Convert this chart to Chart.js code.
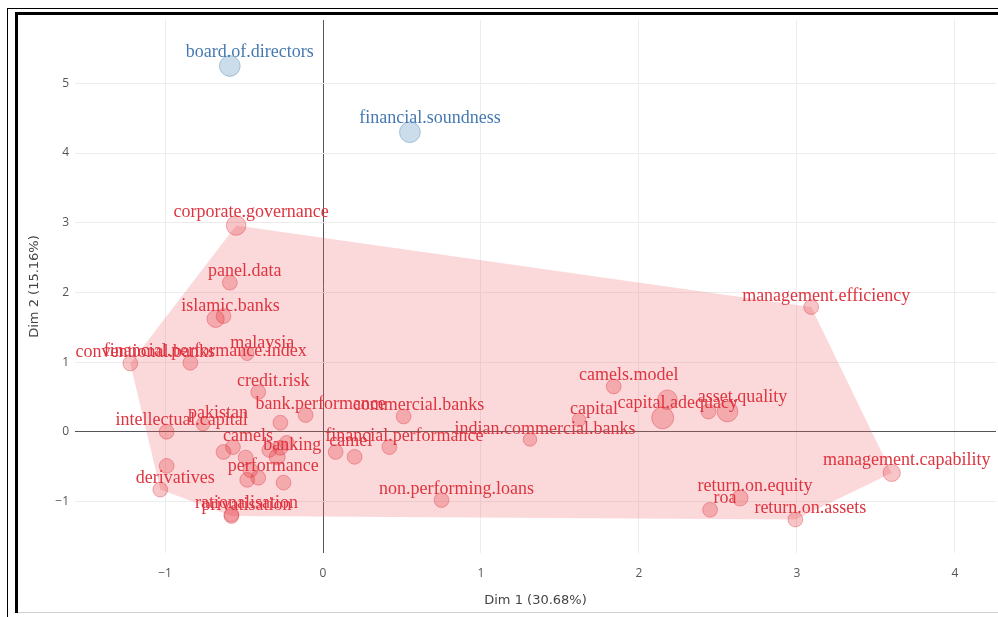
<!DOCTYPE html>
<html>
<head>
<meta charset="utf-8">
<title>MCA biplot – Dim 1 vs Dim 2</title>
<script src="https://cdn.jsdelivr.net/npm/chart.js@4.4.1/dist/chart.umd.min.js"></script>
<style>
  html, body { margin: 0; padding: 0; background: #fff; overflow: hidden; }
  #wrap { position: relative; width: 998px; height: 617px; overflow: hidden; }
  #plot { position: absolute; left: 0; top: 0; }
  .rule { position: absolute; background: #000; }
</style>
</head>
<body>
<div id="wrap">
  <canvas id="plot" width="998" height="617"></canvas>
  <!-- double frame around the figure -->
  <div class="rule" style="left:7px;top:8px;width:1px;height:609px;"></div>
  <div class="rule" style="left:7px;top:8px;width:991px;height:1px;"></div>
  <div class="rule" style="left:15px;top:12px;width:3px;height:601px;"></div>
  <div class="rule" style="left:15px;top:12px;width:983px;height:3px;"></div>
  <div class="rule" style="left:18px;top:612px;width:980px;height:1px;background:#cfcfcf;"></div>
</div>
<script>
// Keyword categories (active) – coordinates on the first two dimensions
const redTerms = [
  'corporate.governance', 'panel.data', 'islamic.banks', '', 'malaysia',
  'conventional.banks', 'financial.performance.index', 'credit.risk', 'bank.performance', 'commercial.banks',
  'intellectual.capital', 'pakistan', 'camels', 'banking', 'performance',
  'derivatives', '', 'privatisation', 'rationalisation', 'financial.performance',
  'camel', '', 'non.performing.loans', 'indian.commercial.banks', 'camels.model',
  'capital', 'capital.adequacy', '', 'asset.quality', '',
  'management.efficiency', 'management.capability', 'return.on.equity', 'roa', 'return.on.assets',
  '', '', '', '', '', '', '', '', ''
];
const redDim1 = [
  -0.55, -0.59, -0.68, -0.63, -0.48,
  -1.22, -0.84, -0.41, -0.11, 0.51,
  -0.99, -0.76, -0.57, -0.29, -0.41,
  -1.03, -0.99, -0.58, -0.58, 0.42,
  0.08, 0.20, 0.75, 1.31, 1.84,
  1.62, 2.15, 2.18, 2.56, 2.44,
  3.09, 3.60, 2.64, 2.45, 2.99,
  -0.63, -0.49, -0.34, -0.27, -0.23, -0.46, -0.48, -0.25, -0.27
];
const redDim2 = [
  2.96, 2.14, 1.62, 1.66, 1.12,
  0.98, 0.99, 0.57, 0.24, 0.22,
  0.00, 0.11, -0.22, -0.36, -0.66,
  -0.83, -0.49, -1.21, -1.19, -0.22,
  -0.29, -0.36, -0.98, -0.11, 0.65,
  0.17, 0.20, 0.46, 0.29, 0.29,
  1.79, -0.59, -0.95, -1.12, -1.26,
  -0.29, -0.37, -0.26, -0.23, -0.16, -0.55, -0.69, -0.73, 0.13
];
// relative contribution of each category (drives the marker size)
const redContrib = [
  0.8, 0.4, 0.6, 0.4, 0.3,
  0.4, 0.4, 0.4, 0.4, 0.4,
  0.4, 0.3, 0.4, 0.5, 0.4,
  0.4, 0.4, 0.4, 0.4, 0.4,
  0.4, 0.4, 0.4, 0.3, 0.4,
  0.3, 1.0, 0.8, 0.9, 0.4,
  0.4, 0.6, 0.5, 0.4, 0.4,
  0.4, 0.4, 0.4, 0.4, 0.4, 0.4, 0.4, 0.4, 0.4
];

// Supplementary categories
const blueTerms = ['board.of.directors', 'financial.soundness'];
const blueDim1 = [-0.59, 0.55];
const blueDim2 = [5.25, 4.30];
const blueContrib = [0.9, 0.9];

const xTicks = [-1, 0, 1, 2, 3, 4];
const yTicks = [-1, 0, 1, 2, 3, 4, 5];
const xTitle = 'Dim 1 (30.68%)';
const yTitle = 'Dim 2 (15.16%)';

const toPoints = (xs, ys) => xs.map((x, i) => ({ x: x, y: ys[i] }));
const sizeOf = c => 5 + 6 * c;

// convex hull (monotone chain) around the active categories
function convexHull(pts) {
  const p = pts.slice().sort((a, b) => a.x - b.x || a.y - b.y);
  const cross = (o, a, b) => (a.x - o.x) * (b.y - o.y) - (a.y - o.y) * (b.x - o.x);
  const lower = [], upper = [];
  for (const q of p) {
    while (lower.length >= 2 && cross(lower[lower.length - 2], lower[lower.length - 1], q) <= 0) lower.pop();
    lower.push(q);
  }
  for (let i = p.length - 1; i >= 0; i--) {
    const q = p[i];
    while (upper.length >= 2 && cross(upper[upper.length - 2], upper[upper.length - 1], q) <= 0) upper.pop();
    upper.push(q);
  }
  upper.pop(); lower.pop();
  const hull = lower.concat(upper);
  hull.push(hull[0]);
  return hull.map(q => ({ x: q.x, y: q.y }));
}

const redPoints = toPoints(redDim1, redDim2);
const bluePoints = toPoints(blueDim1, blueDim2);
const hull = convexHull(redPoints);

// text labels written just above each marker
const termLabels = {
  id: 'termLabels',
  afterDatasetsDraw(chart) {
    const ctx = chart.ctx;
    chart.data.datasets.forEach((ds, i) => {
      if (!ds.terms) return;
      const meta = chart.getDatasetMeta(i);
      ctx.save();
      ctx.font = '18px "Liberation Serif", "Times New Roman", serif';
      ctx.fillStyle = ds.labelColor;
      ctx.textAlign = 'center';
      ctx.textBaseline = 'alphabetic';
      meta.data.forEach((el, j) => {
        const t = ds.terms[j];
        if (!t) return;
        const r = el.options.radius;
        ctx.fillText(t, el.x + ds.labelDx, el.y - r + 1);
      });
      ctx.restore();
    });
  }
};

const tickFont = { family: '"Open Sans", "DejaVu Sans", sans-serif', size: 12 };
const titleFont = { family: '"DejaVu Sans", sans-serif', size: 13 };
const gridColor = c => (c.tick && c.tick.value === 0 ? '#555555' : '#ececec');
const minus = v => (v < 0 ? '\u2212' + Math.abs(v) : String(v));

new Chart(document.getElementById('plot'), {
  type: 'scatter',
  data: {
    datasets: [
      {
        type: 'line',
        data: hull,
        fill: 'shape',
        backgroundColor: 'rgba(239, 105, 110, 0.25)',
        borderWidth: 0,
        borderColor: 'rgba(0,0,0,0)',
        pointRadius: 0,
        tension: 0,
        order: 3
      },
      {
        data: redPoints,
        terms: redTerms,
        labelColor: '#de3540',
        labelDx: 15,
        pointRadius: redContrib.map(sizeOf),
        backgroundColor: 'rgba(228, 45, 55, 0.28)',
        borderColor: 'rgba(215, 40, 50, 0.35)',
        borderWidth: 1,
        order: 2
      },
      {
        data: bluePoints,
        terms: blueTerms,
        labelColor: '#4679b2',
        labelDx: 20,
        pointRadius: blueContrib.map(sizeOf),
        backgroundColor: 'rgba(70, 130, 180, 0.28)',
        borderColor: 'rgba(70, 130, 180, 0.4)',
        borderWidth: 1,
        order: 1
      }
    ]
  },
  options: {
    responsive: false,
    animation: false,
    devicePixelRatio: 1,
    layout: { autoPadding: false, padding: { top: 20, right: 2, left: 0, bottom: 0 } },
    plugins: { legend: { display: false }, tooltip: { enabled: false } },
    scales: {
      x: {
        type: 'linear',
        min: -1.57,
        max: 4.26,
        afterBuildTicks: s => { s.ticks = xTicks.map(v => ({ value: v })); },
        afterFit: s => { s.height = 64; s.paddingLeft = 0; s.paddingRight = 0; },
        ticks: { font: tickFont, color: '#555', padding: 13, callback: minus },
        grid: { color: gridColor, drawTicks: false, lineWidth: 1 },
        border: { display: false },
        title: { display: true, text: xTitle, font: titleFont, color: '#444', padding: { top: 0, bottom: 9 } }
      },
      y: {
        type: 'linear',
        min: -1.74,
        max: 5.91,
        afterBuildTicks: s => { s.ticks = yTicks.map(v => ({ value: v })); },
        afterFit: s => { s.width = 75; s.paddingTop = 0; s.paddingBottom = 0; },
        ticks: { font: tickFont, color: '#555', padding: 6, callback: minus },
        grid: { color: gridColor, drawTicks: false, lineWidth: 1 },
        border: { display: false },
        title: { display: true, text: yTitle, font: titleFont, color: '#444', padding: { top: 27, bottom: 0 } }
      }
    }
  },
  plugins: [termLabels]
});
</script>
</body>
</html>
